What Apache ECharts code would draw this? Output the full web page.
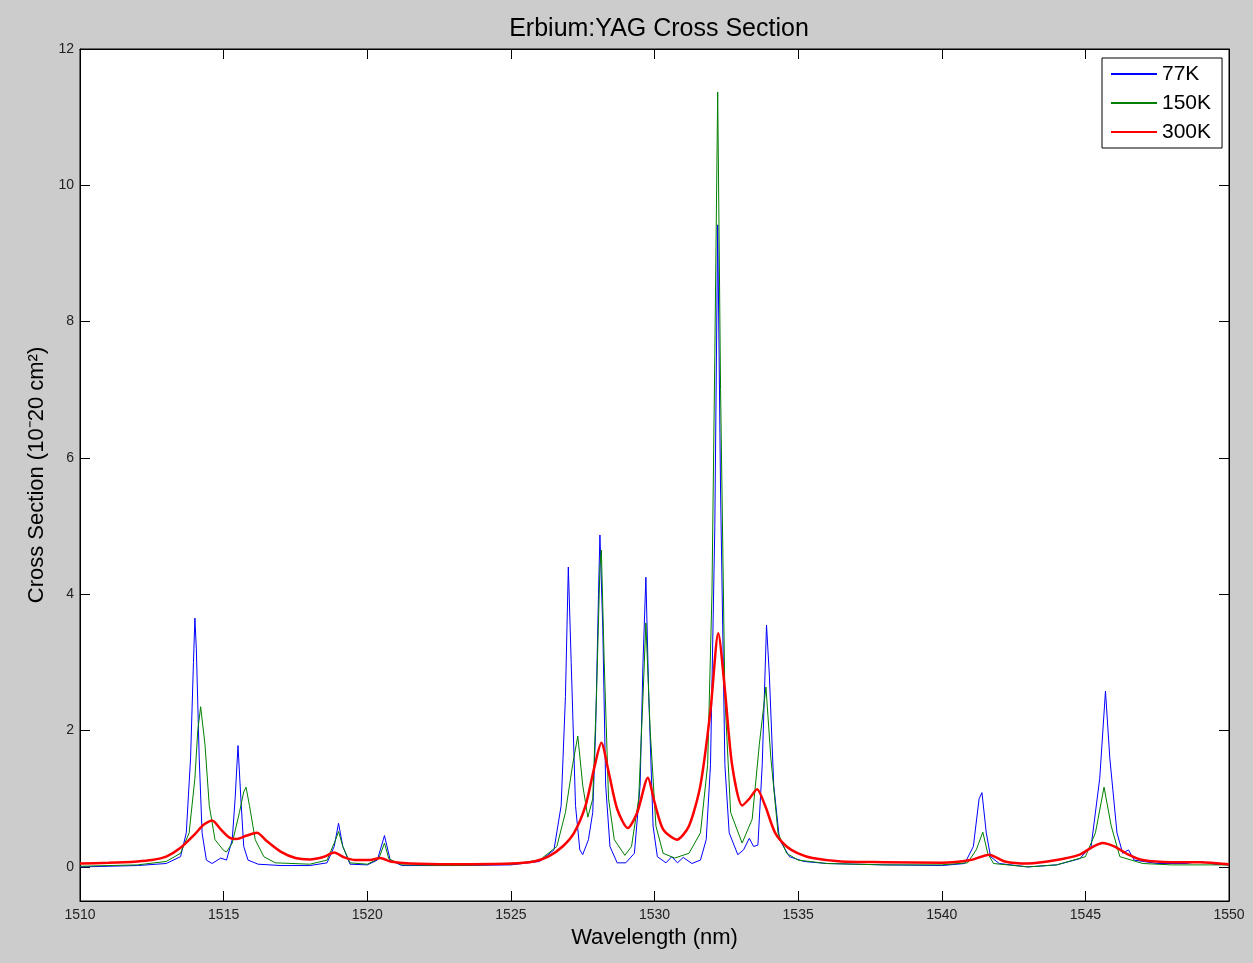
<!DOCTYPE html>
<html>
<head>
<meta charset="utf-8">
<script src="https://cdn.jsdelivr.net/npm/echarts@6/dist/echarts.min.js"></script>
<style>
html,body{margin:0;padding:0;background:#cccccc;}
#chart{width:1253px;height:963px;}
</style>
</head>
<body>
<div id="chart"></div>
<script>
// ---- data ----
var seriesNames = ['77K', '150K', '300K'];
var xTicks = [1510, 1515, 1520, 1525, 1530, 1535, 1540, 1545, 1550];
var yTicks = [0, 2, 4, 6, 8, 10, 12];

var wl77 = [1510.0,1511.0,1512.0,1513.0,1513.5,1513.7,1513.85,1513.95,1514.0,1514.05,1514.15,1514.25,1514.4,1514.6,1514.9,1515.1,1515.3,1515.4,1515.5,1515.6,1515.7,1515.85,1516.2,1517,1518,1518.6,1518.85,1519.0,1519.15,1519.4,1520,1520.35,1520.6,1520.8,1521.2,1523,1525,1526,1526.5,1526.75,1526.9,1527.0,1527.1,1527.25,1527.4,1527.5,1527.7,1527.85,1527.95,1528.05,1528.1,1528.2,1528.3,1528.45,1528.7,1529.0,1529.3,1529.5,1529.6,1529.7,1529.8,1529.95,1530.1,1530.4,1530.6,1530.8,1531.0,1531.3,1531.6,1531.8,1531.95,1532.1,1532.2,1532.3,1532.45,1532.6,1532.9,1533.1,1533.3,1533.45,1533.6,1533.75,1533.9,1534.0,1534.15,1534.35,1534.7,1535.2,1536,1538,1540,1540.8,1541.1,1541.3,1541.4,1541.55,1541.7,1542,1543,1544,1544.8,1545.2,1545.5,1545.7,1545.85,1546.1,1546.3,1546.5,1546.7,1547.5,1548.5,1549,1549.5,1550];
var cs77 = [0.0,0.01,0.02,0.05,0.15,0.5,1.6,3.0,3.65,3.2,1.6,0.5,0.1,0.05,0.13,0.1,0.4,1.0,1.78,1.0,0.3,0.1,0.04,0.02,0.02,0.06,0.3,0.64,0.3,0.04,0.03,0.1,0.46,0.1,0.02,0.02,0.03,0.08,0.25,0.9,2.5,4.40,3.0,0.9,0.25,0.18,0.4,0.8,2.0,4.0,4.87,3.5,1.2,0.3,0.06,0.06,0.2,1.2,3.0,4.25,2.5,0.6,0.15,0.06,0.15,0.06,0.14,0.05,0.1,0.4,1.5,5.0,9.42,5.5,1.5,0.5,0.18,0.25,0.42,0.3,0.32,1.5,3.55,2.8,1.2,0.4,0.15,0.08,0.05,0.03,0.02,0.05,0.3,1.0,1.09,0.5,0.15,0.05,0.0,0.03,0.12,0.3,1.3,2.58,1.6,0.5,0.2,0.25,0.1,0.05,0.05,0.08,0.04,0.03];

var wl150 = [1510,1512,1513,1513.5,1513.8,1514.0,1514.1,1514.2,1514.35,1514.5,1514.7,1515.0,1515.1,1515.3,1515.55,1515.7,1515.78,1515.9,1516.1,1516.4,1516.8,1518,1518.6,1518.9,1519.0,1519.15,1519.4,1520,1520.4,1520.6,1520.75,1521.2,1523,1525,1526,1526.6,1526.9,1527.15,1527.33,1527.5,1527.68,1527.85,1527.98,1528.1,1528.15,1528.25,1528.4,1528.6,1528.97,1529.2,1529.45,1529.6,1529.7,1529.85,1530.05,1530.3,1530.7,1531.2,1531.6,1531.85,1532.0,1532.1,1532.2,1532.3,1532.45,1532.65,1533.05,1533.4,1533.65,1533.88,1534.05,1534.3,1534.6,1535,1536,1538,1540,1540.9,1541.2,1541.43,1541.6,1541.8,1543,1544,1545,1545.35,1545.65,1545.9,1546.2,1547,1548,1550];
var cs150 = [0.01,0.03,0.08,0.2,0.5,1.3,2.0,2.35,1.8,0.9,0.4,0.24,0.22,0.35,0.8,1.1,1.17,0.9,0.4,0.15,0.06,0.04,0.1,0.4,0.52,0.3,0.06,0.04,0.12,0.35,0.12,0.03,0.02,0.04,0.1,0.3,0.8,1.5,1.92,1.2,0.73,1.0,2.5,4.4,4.65,3.0,1.0,0.4,0.17,0.3,1.0,2.5,3.58,2.0,0.6,0.2,0.13,0.2,0.5,1.5,4.0,7.5,11.37,7.0,2.5,0.8,0.35,0.7,1.8,2.64,1.6,0.5,0.2,0.1,0.05,0.03,0.03,0.06,0.25,0.51,0.2,0.05,0.0,0.03,0.15,0.5,1.17,0.6,0.15,0.05,0.03,0.03];

var wl300 = [1510,1511,1512,1512.5,1513,1513.5,1514,1514.3,1514.6,1514.9,1515.2,1515.45,1515.8,1516.16,1516.5,1517,1517.5,1518,1518.5,1518.85,1519.2,1519.6,1520.1,1520.45,1520.8,1521.5,1523,1525,1525.8,1526.3,1526.8,1527.2,1527.6,1527.9,1528.15,1528.4,1528.7,1529.07,1529.4,1529.77,1530.0,1530.3,1530.78,1531.2,1531.6,1531.95,1532.22,1532.45,1532.7,1533.05,1533.3,1533.57,1533.85,1534.2,1534.6,1535,1535.5,1536.5,1538,1540,1541,1541.65,1542.2,1543,1544,1544.8,1545.2,1545.6,1546,1546.5,1547,1548,1549,1550];
var cs300 = [0.05,0.06,0.08,0.1,0.15,0.28,0.48,0.62,0.68,0.55,0.43,0.41,0.46,0.50,0.38,0.22,0.13,0.11,0.15,0.21,0.14,0.1,0.1,0.13,0.08,0.05,0.04,0.05,0.08,0.15,0.3,0.5,0.9,1.45,1.82,1.4,0.85,0.57,0.8,1.31,0.95,0.55,0.40,0.6,1.2,2.3,3.43,2.6,1.5,0.9,1.0,1.14,0.9,0.5,0.3,0.2,0.13,0.08,0.07,0.06,0.1,0.18,0.08,0.05,0.1,0.18,0.28,0.35,0.3,0.18,0.1,0.07,0.07,0.04];

function pairs(xs, ys){ return xs.map(function(x,i){ return [x, ys[i]]; }); }

var FONT = '"Liberation Sans", Arial, sans-serif';
var chart = echarts.init(document.getElementById('chart'), null, {renderer:'canvas'});

function axisBase(ticks){
  return {
    axisLine:{show:true, onZero:false, lineStyle:{color:'#000', width:1}},
    axisTick:{show:true, inside:true, length:10, customValues:ticks, lineStyle:{color:'#000', width:1}},
    splitLine:{show:false}
  };
}

chart.setOption({
  backgroundColor:'#cccccc',
  animation:false,
  title:{
    text:'Erbium:YAG Cross Section',
    left:654, top:12, textAlign:'center',
    textStyle:{fontFamily:FONT, fontSize:25, fontWeight:'normal', color:'#000'}
  },
  legend:{
    orient:'vertical',
    left:1102, top:58,
    padding:[4,11,4,8],
    itemGap:5,
    itemWidth:46, itemHeight:14,
    backgroundColor:'#fff',
    borderColor:'#000', borderWidth:1, borderRadius:0,
    itemStyle:{opacity:0},
    textStyle:{fontFamily:FONT, fontSize:21, color:'#000', lineHeight:24},
    data:seriesNames
  },
  grid:{left:80, right:24, top:49, bottom:62, show:true, backgroundColor:'#fff', borderColor:'#000', borderWidth:1, containLabel:false},
  xAxis:[
    Object.assign(axisBase(xTicks), {
      type:'value', position:'bottom', min:xTicks[0], max:xTicks[xTicks.length-1], interval:5,
      name:'Wavelength (nm)', nameLocation:'middle', nameGap:26,
      nameTextStyle:{fontFamily:FONT, fontSize:22, color:'#000'},
      axisLabel:{fontFamily:FONT, fontSize:14, color:'#222', margin:7, customValues:xTicks,
        formatter:function(v){ return String(v); }}
    }),
    Object.assign(axisBase(xTicks), {
      type:'value', position:'top', min:xTicks[0], max:xTicks[xTicks.length-1], interval:5,
      axisLabel:{show:false}
    })
  ],
  yAxis:[
    Object.assign(axisBase(yTicks), {
      type:'value', position:'left', min:-0.5, max:12,
      name:'Cross Section (10\u207B20 cm\u00B2)', nameLocation:'middle', nameGap:32, nameRotate:90,
      nameTextStyle:{fontFamily:FONT, fontSize:22, color:'#000'},
      axisLabel:{fontFamily:FONT, fontSize:14, color:'#222', margin:6, customValues:yTicks,
        formatter:function(v){ return String(v); }}
    }),
    Object.assign(axisBase(yTicks), {
      type:'value', position:'right', min:-0.5, max:12,
      axisLabel:{show:false}
    })
  ],
  series:[
    {name:seriesNames[0], type:'line', data:pairs(wl77, cs77), symbol:'none', showSymbol:false,
     lineStyle:{color:'#0000ff', width:1}, itemStyle:{color:'#0000ff'}, z:3},
    {name:seriesNames[1], type:'line', data:pairs(wl150, cs150), symbol:'none', showSymbol:false,
     lineStyle:{color:'#008000', width:1}, itemStyle:{color:'#008000'}, z:4},
    {name:seriesNames[2], type:'line', data:pairs(wl300, cs300), symbol:'none', showSymbol:false, smooth:0.25,
     lineStyle:{color:'#ff0000', width:2.5}, itemStyle:{color:'#ff0000'}, z:5}
  ]
});
</script>
</body>
</html>
